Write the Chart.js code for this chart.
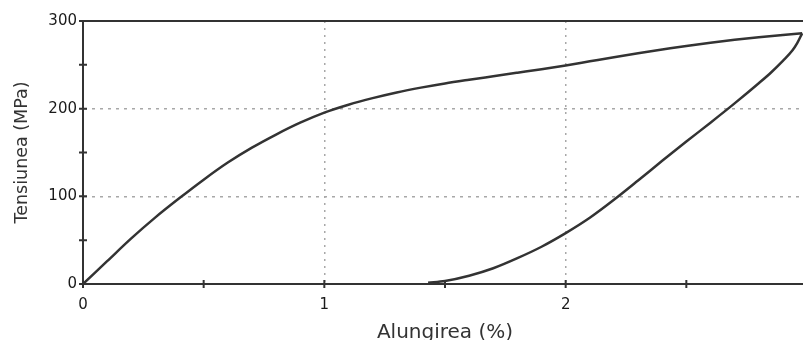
<!DOCTYPE html>
<html>
<head>
<meta charset="utf-8">
<script src="https://cdn.jsdelivr.net/npm/chart.js@4/dist/chart.umd.min.js"></script>
<style>
  html, body { margin: 0; padding: 0; background: #fff; overflow: hidden; }
  #wrap { width: 803px; height: 340px; overflow: hidden; position: relative; }
  canvas { display: block; }
</style>
</head>
<body>
<div id="wrap"><canvas id="c" width="803" height="340"></canvas></div>
<script>
// ---- data ----
const loadX   = [0, 0.1, 0.2, 0.3, 0.4, 0.5, 0.6, 0.7, 0.8, 0.9, 1.0, 1.1, 1.2, 1.3, 1.4, 1.5, 1.6, 1.7, 1.8, 1.9, 2.0, 2.1, 2.2, 2.3, 2.4, 2.5, 2.6, 2.7, 2.8, 2.9, 2.98];
const loadY   = [0, 26, 52, 76, 98, 119, 138.5, 155.5, 170.5, 184, 195.5, 204.5, 212, 218.5, 224, 228.8, 233, 237, 241, 245, 249.3, 254, 258.7, 263.2, 267.4, 271.6, 275.3, 278.6, 281.5, 284, 286];
const unloadX = [1.43, 1.5, 1.6, 1.7, 1.8, 1.9, 2.0, 2.1, 2.2, 2.3, 2.4, 2.5, 2.6, 2.7, 2.8, 2.85, 2.9, 2.94, 2.96, 2.98];
const unloadY = [1.5, 3.5, 9.5, 18, 29.5, 42.5, 58, 75.5, 96, 118, 140.5, 162.5, 184, 206, 229, 241, 254.5, 266.5, 275, 286];
const xTickLabels = ['0', '1', '2', '3'];
const yTickLabels = ['0', '100', '200', '300'];
const xTitle = 'Alungirea (%)';
const yTitle = 'Tensiunea (MPa)';

const INK = '#333333';
const GRID = '#a8a8a8';
const FONT = "'DejaVu Sans', Verdana, sans-serif";
const OVERHANG = 4; // in the reference the plot area runs a few px past the picture's right edge

const toPts = (xs, ys) => xs.map((x, i) => ({ x, y: ys[i] }));

// let the plot area continue past the right edge, as in the cropped reference
const extendRight = {
  id: 'extendRight',
  afterLayout(chart) {
    const x = chart.scales.x;
    x.right += OVERHANG; x.width += OVERHANG;
    chart.chartArea.right += OVERHANG; chart.chartArea.width += OVERHANG;
    x.configure();
  }
};

const axisMarks = {
  id: 'axisMarks',
  beforeDatasetsDraw(chart) {
    const { ctx, chartArea: a, scales: { x, y } } = chart;
    ctx.save();
    ctx.strokeStyle = INK;
    ctx.lineWidth = 2;
    ctx.beginPath();
    x.ticks.forEach(t => {
      const px = x.getPixelForValue(t.value);
      ctx.moveTo(px, a.bottom - 4); ctx.lineTo(px, a.bottom + 4);
    });
    y.ticks.forEach(t => {
      const py = y.getPixelForValue(t.value);
      ctx.moveTo(a.left - 4, py); ctx.lineTo(a.left + 4, py);
    });
    ctx.moveTo(a.left, a.top); ctx.lineTo(a.right, a.top);
    ctx.stroke();
    ctx.restore();
  }
};

new Chart(document.getElementById('c'), {
  type: 'scatter',
  data: {
    datasets: [
      { data: toPts(loadX, loadY) },
      { data: toPts(unloadX, unloadY) }
    ]
  },
  options: {
    responsive: false,
    animation: false,
    events: [],
    layout: { autoPadding: false, padding: { top: 21, right: 0, bottom: 0, left: 0 } },
    elements: {
      point: { radius: 0 },
      line: { borderColor: INK, borderWidth: 2.5, cubicInterpolationMode: 'monotone', fill: false }
    },
    datasets: { scatter: { showLine: true } },
    plugins: { legend: { display: false }, tooltip: { enabled: false } },
    scales: {
      x: {
        type: 'linear', min: 0, max: 3,
        afterFit: s => { s.height = 56; s.paddingRight = 0; s.paddingLeft = 0; },
        border: { display: true, color: INK, width: 2, dash: [2, 5] },
        grid: {
          drawTicks: false,
          color: c => (c.tick && Number.isInteger(c.tick.value) && c.tick.value > 0 && c.tick.value < 3) ? GRID : 'rgba(0,0,0,0)',
          lineWidth: 1.5
        },
        ticks: {
          stepSize: 0.5, autoSkip: false, maxRotation: 0, padding: 12,
          color: '#1a1a1a', font: { family: FONT, size: 15 },
          callback: v => Number.isInteger(v) ? xTickLabels[v] : ''
        },
        title: { display: true, text: xTitle, color: '#333', font: { family: FONT, size: 20, lineHeight: 1 }, padding: { top: 0, bottom: -3 } }
      },
      y: {
        type: 'linear', min: 0, max: 300,
        afterFit: s => { s.width = 83; },
        border: { display: true, color: INK, width: 2, dash: [3, 5] },
        grid: {
          drawTicks: false,
          color: c => (c.tick && c.tick.value % 100 === 0 && c.tick.value > 0 && c.tick.value < 300) ? GRID : 'rgba(0,0,0,0)',
          lineWidth: 1.5
        },
        ticks: {
          stepSize: 50, autoSkip: false, padding: 6,
          color: '#1a1a1a', font: { family: FONT, size: 15 },
          callback: v => (v % 100 === 0) ? yTickLabels[v / 100] : ''
        },
        title: { display: true, text: yTitle, color: '#333', font: { family: FONT, size: 17.5, lineHeight: 1 }, padding: { top: 14, bottom: 0 } }
      }
    }
  },
  plugins: [extendRight, axisMarks]
});
</script>
</body>
</html>
